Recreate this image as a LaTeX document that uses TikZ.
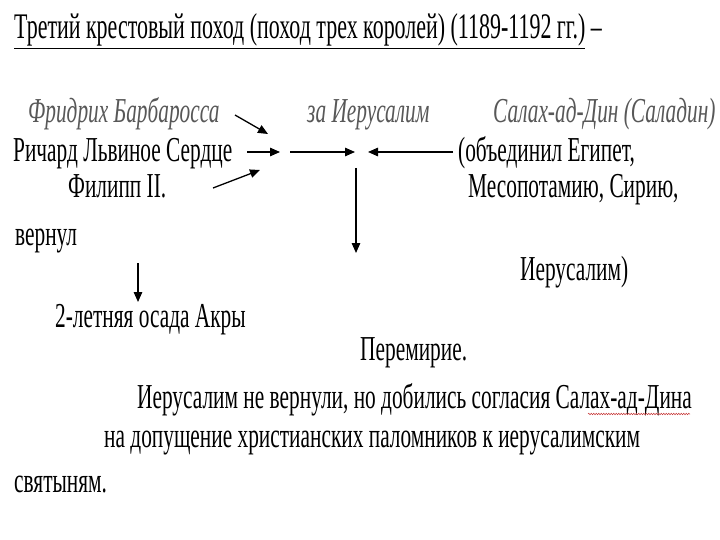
\documentclass[tikz,border=0pt]{standalone}
\usepackage{fontspec}
\setmainfont[FakeStretch=0.61]{Liberation Serif}
\usepackage{tikz}
\usetikzlibrary{arrows.meta,positioning,calc,decorations.pathmorphing}
\definecolor{namegray}{RGB}{88,88,88}
\definecolor{spellred}{RGB}{200,60,60}
\tikzset{
  txt/.style={anchor=base west, inner sep=0pt, font=\fontsize{35}{40}\selectfont},
  nametxt/.style={txt, font=\fontsize{35}{40}\selectfont\itshape, text=namegray},
  arrowln/.style={-{Triangle[length=10pt,width=8.5pt]}, line width=1.3pt},
  spellln/.style={spellred, line width=0.5pt, decorate,
    decoration={snake, amplitude=0.8pt, segment length=2.5pt}},
}

\begin{document}
\begin{tikzpicture}[x=1pt, y=-1pt]
    \useasboundingbox[fill=white] (0,0) rectangle (720,540);
    \node[txt, font=\fontsize{36}{40}\selectfont] (title) at (14,39)
      {\underline{Третий крестовый поход (поход трех королей) (1189-1192 гг.)} –};
    % participants
    \node[nametxt] (fred) at (28,123) {Фридрих Барбаросса};
    \node[txt] (richard) at (13,162) {Ричард Львиное Сердце};
    \node[txt] (filip) at (68,198) {Филипп II.};
    \node[txt] (vernul) at (15,245) {вернул};
    \node[txt] (akra) at (55,327) {2-летняя осада Акры};
    \node[nametxt] (goal) at (307,123) {за Иерусалим};
    \node[nametxt] (salah) at (493,123) {Салах-ад-Дин (Саладин)};
    \node[txt] (obed) at (458,162) {(объединил Египет,};
    \node[txt] (mesop) at (468,198) {Месопотамию, Сирию,};
    \node[txt] (jerus) at (520,280) {Иерусалим)};
    % outcome
    \node[txt] (truce) at (360,360) {Перемирие.};
    \node[txt] (nojer) at (137,408)
      {Иерусалим не вернули, но добились согласия Салах-ад-Дина};
    \node[txt] (allow) at (104,447)
      {на допущение христианских паломников к иерусалимским};
    \node[txt] (shrine) at (14,492) {святыням.};
    % arrow ends
    \coordinate (fredout) at (235,115);
    \coordinate (fredin) at (268,134);
    \coordinate (richout) at (247,152);
    \coordinate (richin) at (280,152);
    \coordinate (filout) at (213,188);
    \coordinate (filin) at (260,170);
    \coordinate (hubout) at (290,152);
    \coordinate (hubin) at (355,152);
    \coordinate (salout) at (453,152);
    \coordinate (salin) at (368,152);
    \coordinate (downout) at (356,168);
    \coordinate (downin) at (356,253);
    \coordinate (akraout) at (138,263);
    \coordinate (akrain) at (138,302);
    \draw[arrowln] (fredout) -- (fredin);
    \draw[arrowln] (richout) -- (richin);
    \draw[arrowln] (filout) -- (filin);
    \draw[arrowln] (hubout) -- (hubin);
    \draw[arrowln] (salout) -- (salin);
    \draw[arrowln] (downout) -- (downin);
    \draw[arrowln] (akraout) -- (akrain);
    % spell-check mark
    \coordinate (spella) at (588,414);
    \coordinate (spellb) at (690,414);
    \draw[spellln] (spella) -- (spellb);
\end{tikzpicture}
\end{document}
